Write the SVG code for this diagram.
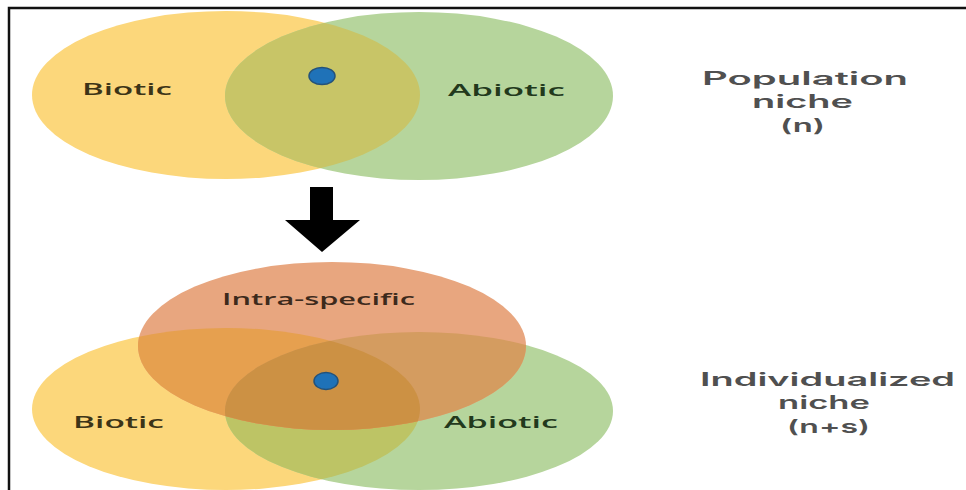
<svg xmlns="http://www.w3.org/2000/svg" width="966" height="490" viewBox="0 0 966 490">
  <style>
    .lbl { font-family: "Open Sans", "Liberation Sans", sans-serif; font-size: 17px; font-weight: 600; }
    .side { font-family: Inter, "Liberation Sans", sans-serif; font-size: 18px; font-weight: 600; fill: #505050; text-anchor: start; }
    .dot { fill: #1f72b8; stroke: #24527a; stroke-width: 1.5; }
  </style>
  <defs>
    <clipPath id="clipTopY"><ellipse cx="226" cy="95" rx="194" ry="84"/></clipPath>
    <clipPath id="clipBotY"><ellipse cx="226" cy="409" rx="194" ry="81"/></clipPath>
    <clipPath id="clipBotG"><ellipse cx="419" cy="411" rx="194" ry="79"/></clipPath>
  </defs>

  <rect width="966" height="490" fill="#ffffff"/>

  <!-- frame: top and left rules -->
  <path d="M9 490 V8 H966" fill="none" stroke="#111" stroke-width="2.5"/>

  <!-- population niche: two-set venn -->
  <g id="population-venn">
    <ellipse cx="226" cy="95" rx="194" ry="84" fill="#fcd77b"/>
    <ellipse cx="419" cy="96" rx="194" ry="84" fill="#b6d59c"/>
    <ellipse cx="419" cy="96" rx="194" ry="84" fill="#c8c567" clip-path="url(#clipTopY)"/>
    <ellipse class="dot" cx="322" cy="76" rx="13" ry="8.5"/>
    <text class="lbl" x="82" y="95" fill="#3c3417" textLength="90" lengthAdjust="spacingAndGlyphs">Biotic</text>
    <text class="lbl" x="448" y="96" fill="#22391c" textLength="117" lengthAdjust="spacingAndGlyphs">Abiotic</text>
  </g>

  <g id="population-label">
    <text class="side" x="702" y="85" textLength="206" lengthAdjust="spacingAndGlyphs">Population</text>
    <text class="side" x="752" y="108" textLength="101" lengthAdjust="spacingAndGlyphs">niche</text>
    <text class="side" x="780" y="132" textLength="45" lengthAdjust="spacingAndGlyphs">(n)</text>
  </g>

  <!-- transition arrow -->
  <g id="connectors">
    <path d="M310 187 H333 V220 H360 L322 252 L285 220 H310 Z" fill="#000"/>
  </g>

  <!-- individualized niche: three-set venn -->
  <g id="individualized-venn">
    <ellipse cx="226" cy="409" rx="194" ry="81" fill="#fcd77b"/>
    <ellipse cx="419" cy="411" rx="194" ry="79" fill="#b6d59c"/>
    <ellipse cx="419" cy="411" rx="194" ry="79" fill="#bdc465" clip-path="url(#clipBotY)"/>
    <ellipse cx="332" cy="346" rx="194" ry="84" fill="#e8a67f"/>
    <ellipse cx="332" cy="346" rx="194" ry="84" fill="#e6a04f" clip-path="url(#clipBotY)"/>
    <ellipse cx="332" cy="346" rx="194" ry="84" fill="#d49c60" clip-path="url(#clipBotG)"/>
    <g clip-path="url(#clipBotY)">
      <ellipse cx="332" cy="346" rx="194" ry="84" fill="#cc9144" clip-path="url(#clipBotG)"/>
    </g>
    <ellipse class="dot" cx="326" cy="381" rx="12" ry="8.5"/>
    <text class="lbl" x="222" y="305" fill="#3d2a1c" textLength="193" lengthAdjust="spacingAndGlyphs">Intra-specific</text>
    <text class="lbl" x="73" y="428" fill="#3c3417" textLength="91" lengthAdjust="spacingAndGlyphs">Biotic</text>
    <text class="lbl" x="444" y="428" fill="#22391c" textLength="114" lengthAdjust="spacingAndGlyphs">Abiotic</text>
  </g>

  <g id="individualized-label">
    <text class="side" x="700" y="386" textLength="255" lengthAdjust="spacingAndGlyphs">Individualized</text>
    <text class="side" x="778" y="409" textLength="92" lengthAdjust="spacingAndGlyphs">niche</text>
    <text class="side" x="787" y="433" textLength="83" lengthAdjust="spacingAndGlyphs">(n+s)</text>
  </g>
</svg>
